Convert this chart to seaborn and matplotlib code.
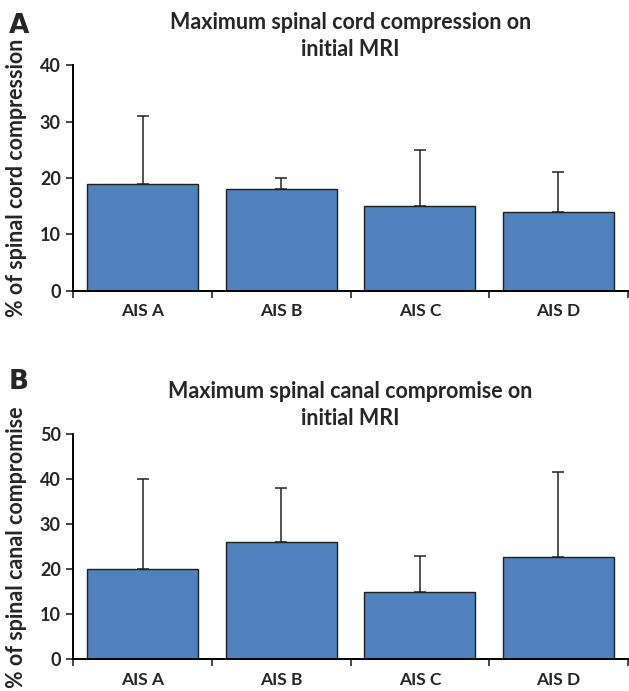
import pandas as pd
import matplotlib.pyplot as plt
import seaborn as sns

# Data
groups = ['AIS A', 'AIS B', 'AIS C', 'AIS D']
cord_mean = [19, 18, 15, 14]
cord_err = [12, 2, 10, 7]
canal_mean = [20, 26, 15, 22.7]
canal_err = [20, 12, 8, 19]

sns.set_style('white')
plt.rcParams['font.family'] = ['Lato', 'DejaVu Sans']
plt.rcParams['font.weight'] = 'bold'

BAR = '#4F81BD'


def draw_panel(ax, means, errs, ymax, title, ylabel, letter, letter_y):
    df = pd.DataFrame({'group': groups, 'value': means})
    sns.barplot(data=df, x='group', y='value', color=BAR, saturation=1,
                width=0.8, edgecolor='#1f1f1f', linewidth=1.0, ax=ax)
    ax.errorbar(range(len(groups)), means, yerr=[[0] * len(errs), errs],
                fmt='none', ecolor='#222222', elinewidth=1.1, capsize=4, capthick=1.1)
    ax.set_xlim(-0.5, len(groups) - 0.5)
    ax.set_ylim(0, ymax)
    ax.set_yticks(range(0, ymax + 1, 10))
    ax.set_xlabel('')
    ax.set_ylabel(ylabel, fontsize=15.5, fontweight='bold')
    ax.yaxis.set_label_coords(-0.084, 0.5)
    ax.set_title(title, fontsize=15.5, fontweight='bold', pad=7, linespacing=1.3)
    sns.despine(ax=ax)
    for side in ['left', 'bottom']:
        ax.spines[side].set_linewidth(1.4)
        ax.spines[side].set_color('black')
    ax.tick_params(axis='y', direction='out', length=5, width=1.2, labelsize=13, pad=4, left=True)
    ax.tick_params(axis='x', which='major', length=0, labelsize=12.5, pad=9)
    ax.set_xticks([i - 0.5 for i in range(len(groups) + 1)], minor=True)
    ax.tick_params(axis='x', which='minor', direction='out', length=5, width=1.2, bottom=True)
    for lab in ax.get_xticklabels() + ax.get_yticklabels():
        lab.set_fontweight('bold')
    ax.text(-0.116, letter_y, letter, transform=ax.transAxes, fontsize=19, fontweight='bold',
            family='DejaVu Sans', va='baseline', ha='left')


fig = plt.figure(figsize=(6.29, 6.91), dpi=100)
ax1 = fig.add_axes([0.1166, 0.5793, 0.8814, 0.3262])
ax2 = fig.add_axes([0.1166, 0.0459, 0.8814, 0.3256])

draw_panel(ax1, cord_mean, cord_err, 40,
           'Maximum spinal cord compression on\ninitial MRI',
           '% of spinal cord compression', 'A', 1.143)
draw_panel(ax2, canal_mean, canal_err, 50,
           'Maximum spinal canal compromise on\ninitial MRI',
           '% of spinal canal compromise', 'B', 1.201)

fig.savefig('out.png', dpi=100)
